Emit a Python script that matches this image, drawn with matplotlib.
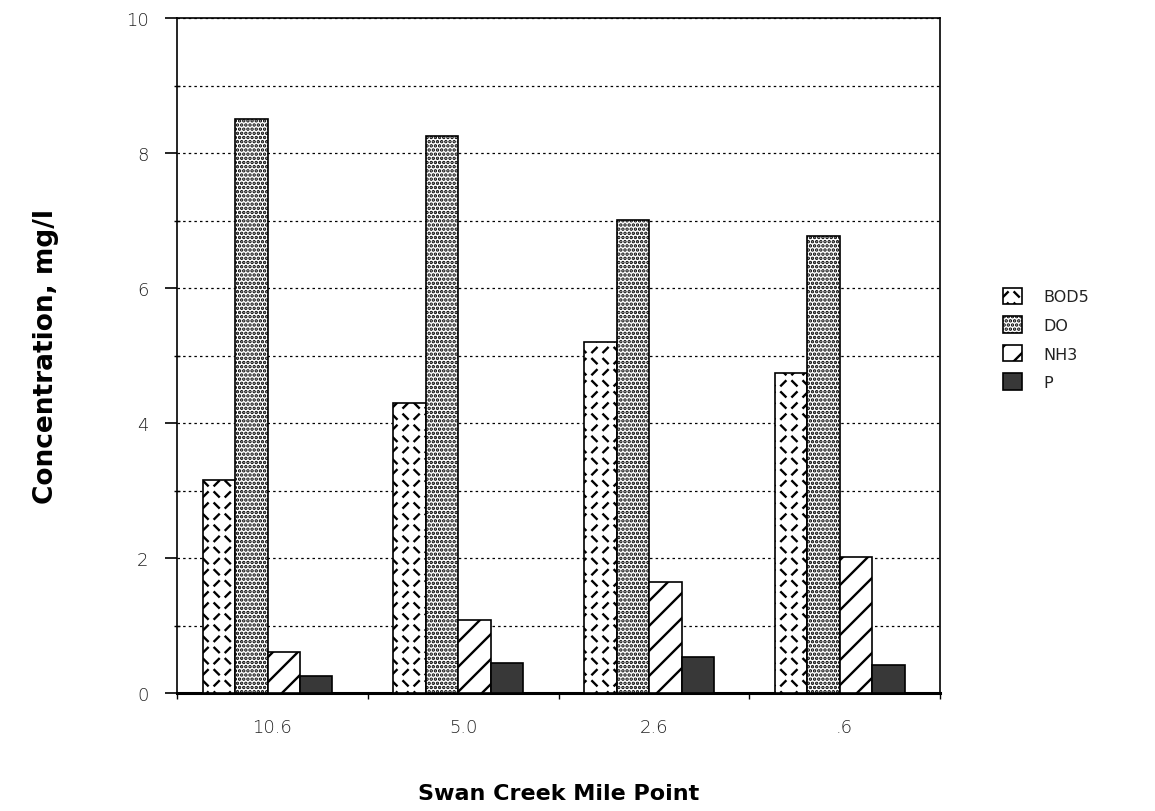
import warnings
warnings.filterwarnings("ignore")
import numpy as np
import matplotlib
matplotlib.use("Agg")
import matplotlib.pyplot as plt
from matplotlib import hatch as mhatch
from matplotlib.path import Path
from matplotlib.ticker import MultipleLocator

# ---------------- data ----------------
categories = ["10.6", "5.0", "2.6", ".6"]
series_names = ["BOD5", "DO", "NH3", "P"]
bod5 = [3.16, 4.30, 5.20, 4.74]
do = [8.50, 8.25, 7.01, 6.77]
nh3 = [0.61, 1.08, 1.65, 2.01]
p = [0.25, 0.44, 0.54, 0.41]
y_ticks = [0, 2, 4, 6, 8, 10]


# ---------------- custom hatch patterns ----------------
class WeaveDashes(mhatch.HatchPatternBase):
    """short alternating \\ and / dashes in a checkerboard ('w')"""
    def __init__(self, hatch, density):
        self.n = int(hatch.count('w') * 9)
        self.num_vertices = self.n * self.n * 2

    def set_vertices_and_codes(self, vertices, codes):
        n = self.n
        h = 0.2 / n
        k = 0
        for i in range(n):
            for j in range(n):
                cx = (i + 0.5) / n
                cy = (j + 0.5) / n
                if (i + j) % 2 == 1:
                    vertices[k] = (cx - h, cy + h)
                    vertices[k + 1] = (cx + h, cy - h)
                else:
                    vertices[k] = (cx - h, cy - h)
                    vertices[k + 1] = (cx + h, cy + h)
                codes[k] = Path.MOVETO
                codes[k + 1] = Path.LINETO
                k += 2


class SparseNE(mhatch.HatchPatternBase):
    """sparse north-east diagonal lines ('n'), 4 per unit"""
    def __init__(self, hatch, density):
        self.m = int(hatch.count('n') * 4)
        self.num_vertices = (2 * self.m + 1) * 2 if self.m else 0

    def set_vertices_and_codes(self, vertices, codes):
        m = self.m
        cs = np.arange(-m, m + 1) / m
        vertices[0::2, 0] = cs - 0.5
        vertices[0::2, 1] = -0.5
        vertices[1::2, 0] = cs + 1.5
        vertices[1::2, 1] = 1.5
        codes[0::2] = Path.MOVETO
        codes[1::2] = Path.LINETO


mhatch._hatch_types.append(WeaveDashes)
mhatch._hatch_types.append(SparseNE)

plt.rcParams['hatch.linewidth'] = 1.7
plt.rcParams['hatch.color'] = 'black'

# ---------------- figure ----------------
fig = plt.figure(figsize=(11.55, 8.12), dpi=100)
ax = fig.add_axes([0.1532, 0.1453, 0.8139 - 0.1532, 0.9766 - 0.1453])

x = np.arange(len(categories))
width = 0.17
shift = -0.025
styles = [
    dict(facecolor='white', hatch='w'),
    dict(facecolor='white', hatch='....'),
    dict(facecolor='white', hatch='n'),
    dict(facecolor='#383838', hatch=None),
]
values = [bod5, do, nh3, p]
handles = []
for j, (vals, st, name) in enumerate(zip(values, styles, series_names)):
    b = ax.bar(x + (j - 1.5) * width + shift, vals, width,
               edgecolor='black', linewidth=1.2, label=name, zorder=3, **st)
    handles.append(b)

ax.set_xlim(-0.5, len(categories) - 0.5)
ax.set_ylim(0, 10)

# grid
ax.yaxis.set_minor_locator(MultipleLocator(1))
ax.set_yticks(y_ticks)
ax.grid(axis='y', which='both', color='black', linestyle=(0, (2, 2.5)),
        linewidth=0.9, zorder=1)
ax.set_axisbelow(True)

# ticks
ax.set_xticks(x)
ax.set_xticklabels(categories)
ax.set_xticks(np.arange(len(categories) + 1) - 0.5, minor=True)
ax.tick_params(axis='x', which='major', length=0, pad=18)
ax.tick_params(axis='x', which='minor', length=4, direction='out', width=1)
ax.tick_params(axis='y', which='major', length=8.5, direction='out', width=1.2, pad=12)
ax.tick_params(axis='y', which='minor', length=4, direction='inout', width=1)
for lab in ax.get_xticklabels() + ax.get_yticklabels():
    lab.set_fontsize(13)
    lab.set_color('#222222')
    lab.set_fontweight('light')

for s in ax.spines.values():
    s.set_color('black')
    s.set_linewidth(1.2)
ax.spines['bottom'].set_linewidth(2.2)

ax.set_ylabel("Concentration, mg/l", fontsize=19, fontweight='bold',
              labelpad=48)
ax.set_xlabel("Swan Creek Mile Point", fontsize=16, fontweight='bold',
              labelpad=34)

leg = fig.legend(handles=handles, labels=series_names, loc='upper left',
                 bbox_to_anchor=(0.856, 0.662), frameon=False, fontsize=11.5,
                 handlelength=1.2, handleheight=1.2, labelspacing=0.75,
                 handletextpad=1.3)
for t in leg.get_texts():
    t.set_color('#222222')

fig.savefig("out.png", dpi=100)
